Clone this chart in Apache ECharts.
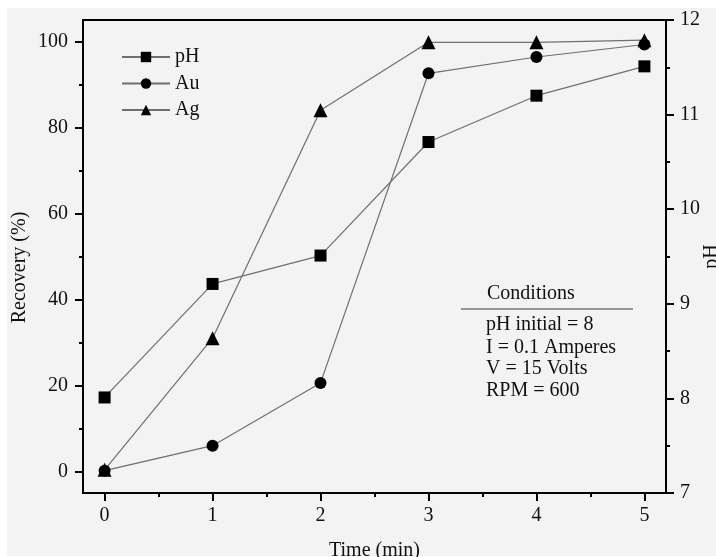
<!DOCTYPE html>
<html><head><meta charset="utf-8">
<script src="https://cdn.jsdelivr.net/npm/echarts@6/dist/echarts.min.js"></script>
<style>html,body{margin:0;padding:0;background:#fff}#c{width:716px;height:557px}</style>
</head><body><div id="c"></div>
<script>
const timeMin = [0, 1, 2, 3, 4, 5];
const pHValues = [8.01, 9.21, 9.51, 10.71, 11.2, 11.51];
const auRecovery = [0.2, 6.0, 20.6, 92.6, 96.4, 99.3];
const agRecovery = [0.4, 31.0, 84.0, 99.8, 99.8, 100.3];
const xTicks = [0, 1, 2, 3, 4, 5];
const xMinorTicks = [0.5, 1.5, 2.5, 3.5, 4.5];
const recTicks = [0, 20, 40, 60, 80, 100];
const recMinorTicks = [10, 30, 50, 70, 90];
const conditionsTitle = 'Conditions';
const conditionsLines = ['pH initial = 8', 'I = 0.1 Amperes', 'V = 15 Volts', 'RPM = 600'];

const FONT = 'Liberation Serif';
const FS = 20;
const lineGray = '#6f6f6f';
const axisLineStyle = { color: '#000', width: 2 };
const labelStyle = { fontFamily: FONT, fontSize: FS, color: '#111' };

const chart = echarts.init(document.getElementById('c'));
const pair = arr => timeMin.map((t, i) => [t, arr[i]]);

const condY = [325, 348, 369, 391];
const graphics = [
  { type: 'rect', left: 7, top: 8, shape: { width: 709, height: 548 }, style: { fill: '#f3f3f3' }, z: -100, silent: true },
  { type: 'text', x: 487, y: 294, style: { text: conditionsTitle, font: FS + 'px "' + FONT + '"', fill: '#111', verticalAlign: 'middle' } },
  { type: 'line', shape: { x1: 461, y1: 309, x2: 633, y2: 309 }, style: { stroke: '#777', lineWidth: 1.5 } }
];
conditionsLines.forEach((t, i) => {
  graphics.push({ type: 'text', x: 486, y: condY[i], style: { text: t, font: FS + 'px "' + FONT + '"', fill: '#111', verticalAlign: 'middle' } });
});

chart.setOption({
  backgroundColor: '#ffffff',
  animation: false,
  graphic: graphics,
  grid: { left: 83, right: 50, top: 20, bottom: 64, containLabel: false, outerBoundsMode: 'none', show: true, borderColor: '#000', borderWidth: 2, backgroundColor: 'transparent' },
  legend: {
    data: ['pH', 'Au', 'Ag'],
    orient: 'vertical', left: 121, top: 47, padding: 0,
    itemWidth: 48, itemHeight: 13, itemGap: 6.5,
    textStyle: { fontFamily: FONT, fontSize: FS, color: '#111' }
  },
  xAxis: [
    {
      type: 'value', min: -0.2, max: 5.2, position: 'bottom',
      axisLine: { show: true, onZero: false, lineStyle: axisLineStyle },
      axisTick: { show: true, customValues: xTicks, length: 8, lineStyle: { width: 2, color: '#000' } },
      axisLabel: Object.assign({ customValues: xTicks, margin: 13 }, labelStyle),
      splitLine: { show: false },
      name: 'Time (min)', nameLocation: 'middle', nameGap: 48, nameMoveOverlap: false,
      nameTextStyle: { fontFamily: FONT, fontSize: FS, color: '#111' }
    },
    {
      type: 'value', min: -0.2, max: 5.2, position: 'bottom',
      axisLine: { show: false, onZero: false },
      axisTick: { show: true, customValues: xMinorTicks, length: 4, lineStyle: { width: 2, color: '#000' } },
      axisLabel: { show: false },
      splitLine: { show: false }
    }
  ],
  yAxis: [
    {
      type: 'value', min: -5, max: 105, position: 'left',
      axisLine: { show: true, onZero: false, lineStyle: axisLineStyle },
      axisTick: { show: true, customValues: recTicks, length: 8, lineStyle: { width: 2, color: '#000' } },
      axisLabel: Object.assign({ customValues: recTicks, margin: 15 }, labelStyle),
      splitLine: { show: false },
      name: 'Recovery (%)', nameLocation: 'middle', nameRotate: 90, nameGap: 53, nameMoveOverlap: false,
      nameTextStyle: { fontFamily: FONT, fontSize: FS, color: '#111', padding: [0, 22, 0, 0] }
    },
    {
      type: 'value', min: -5, max: 105, position: 'left',
      axisLine: { show: false, onZero: false },
      axisTick: { show: true, customValues: recMinorTicks, length: 4, lineStyle: { width: 2, color: '#000' } },
      axisLabel: { show: false },
      splitLine: { show: false }
    },
    {
      type: 'value', min: 7, max: 12, interval: 1, position: 'right',
      axisLine: { show: true, onZero: false, lineStyle: axisLineStyle },
      axisTick: { show: true, length: 8, lineStyle: { width: 2, color: '#000' } },
      minorTick: { show: true, splitNumber: 2, length: 4, lineStyle: { width: 2, color: '#000' } },
      axisLabel: Object.assign({ margin: 14 }, labelStyle),
      splitLine: { show: false }, minorSplitLine: { show: false },
      name: 'pH', nameLocation: 'middle', nameRotate: 90, nameGap: 36, nameMoveOverlap: false,
      nameTextStyle: { fontFamily: FONT, fontSize: FS, color: '#111' }
    }
  ],
  series: [
    {
      name: 'pH', type: 'line', xAxisIndex: 0, yAxisIndex: 2, data: pair(pHValues),
      symbol: 'rect', symbolSize: 12,
      lineStyle: { color: lineGray, width: 1.2 }, itemStyle: { color: '#000' }
    },
    {
      name: 'Au', type: 'line', xAxisIndex: 0, yAxisIndex: 0, data: pair(auRecovery),
      symbol: 'circle', symbolSize: 12,
      lineStyle: { color: lineGray, width: 1.2 }, itemStyle: { color: '#000' }
    },
    {
      name: 'Ag', type: 'line', xAxisIndex: 0, yAxisIndex: 0, data: pair(agRecovery),
      symbol: 'triangle', symbolSize: 14,
      lineStyle: { color: lineGray, width: 1.2 }, itemStyle: { color: '#000' }
    }
  ]
});
</script>
</body></html>
